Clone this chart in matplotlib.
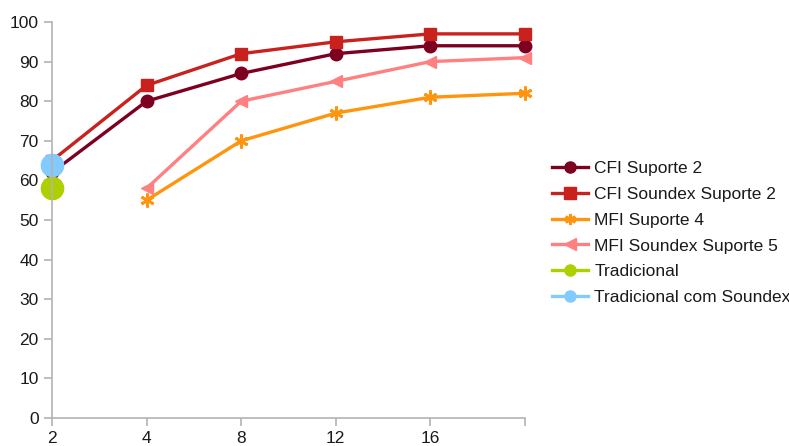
import matplotlib.pyplot as plt
import numpy as np

plt.rcParams['font.family'] = ['Liberation Sans', 'DejaVu Sans']

# categorias do eixo x (a última não tem rótulo)
categorias = ['2', '4', '8', '12', '16', '']

cfi_suporte2 = [62, 80, 87, 92, 94, 94]
cfi_soundex_suporte2 = [65, 84, 92, 95, 97, 97]
mfi_suporte4 = [np.nan, 55, 70, 77, 81, 82]
mfi_soundex_suporte5 = [np.nan, 58, 80, 85, 90, 91]
tradicional = [58]
tradicional_soundex = [64]

x = np.arange(len(categorias))

fig = plt.figure(figsize=(7.89, 4.46), dpi=100)
ax = fig.add_axes([52 / 789, 28 / 446, 473 / 789, 396 / 446])

ax.plot(x, cfi_suporte2, color='#7e0021', lw=2.4, marker='o', ms=9, label='CFI Suporte 2')
ax.plot(x, cfi_soundex_suporte2, color='#c9211e', lw=2.4, marker='s', ms=9, label='CFI Soundex Suporte 2')
ax.plot(x, mfi_suporte4, color='#ff950e', lw=2.4, marker=(6, 2, 0), ms=10, mew=2, label='MFI Suporte 4')
ax.plot(x, mfi_soundex_suporte5, color='#ff8080', lw=2.4, marker='<', ms=9, label='MFI Soundex Suporte 5')
ax.plot(x[:1], tradicional, color='#aecf00', lw=2.4, marker='o', ms=16, label='Tradicional')
ax.plot(x[:1], tradicional_soundex, color='#83caff', lw=2.4, marker='o', ms=16, label='Tradicional com Soundex')

ax.set_xlim(0, len(categorias) - 1)
ax.set_ylim(0, 100)
ax.set_xticks(x)
ax.set_xticklabels(categorias)
ax.set_yticks(np.arange(0, 101, 10))

for lado in ['top', 'right']:
    ax.spines[lado].set_visible(False)
for lado in ['left', 'bottom']:
    ax.spines[lado].set_color('#b3b3b3')
    ax.spines[lado].set_linewidth(1.2)
ax.tick_params(colors='#b3b3b3', labelcolor='#1a1a1a', labelsize=12.5, length=6, width=1.2)
for t in ax.get_children():
    t.set_clip_on(False)

handles, labels = ax.get_legend_handles_labels()
leg = fig.legend(handles, labels, loc='center left', bbox_to_anchor=(536 / 789, 213 / 446),
                 frameon=False, fontsize=12.5, handlelength=2.1, labelspacing=0.62,
                 handletextpad=0.35)
for h in leg.legend_handles:
    h.set_markersize(8)
for t in leg.get_texts():
    t.set_color('#1a1a1a')

fig.savefig('out.png', dpi=100)
